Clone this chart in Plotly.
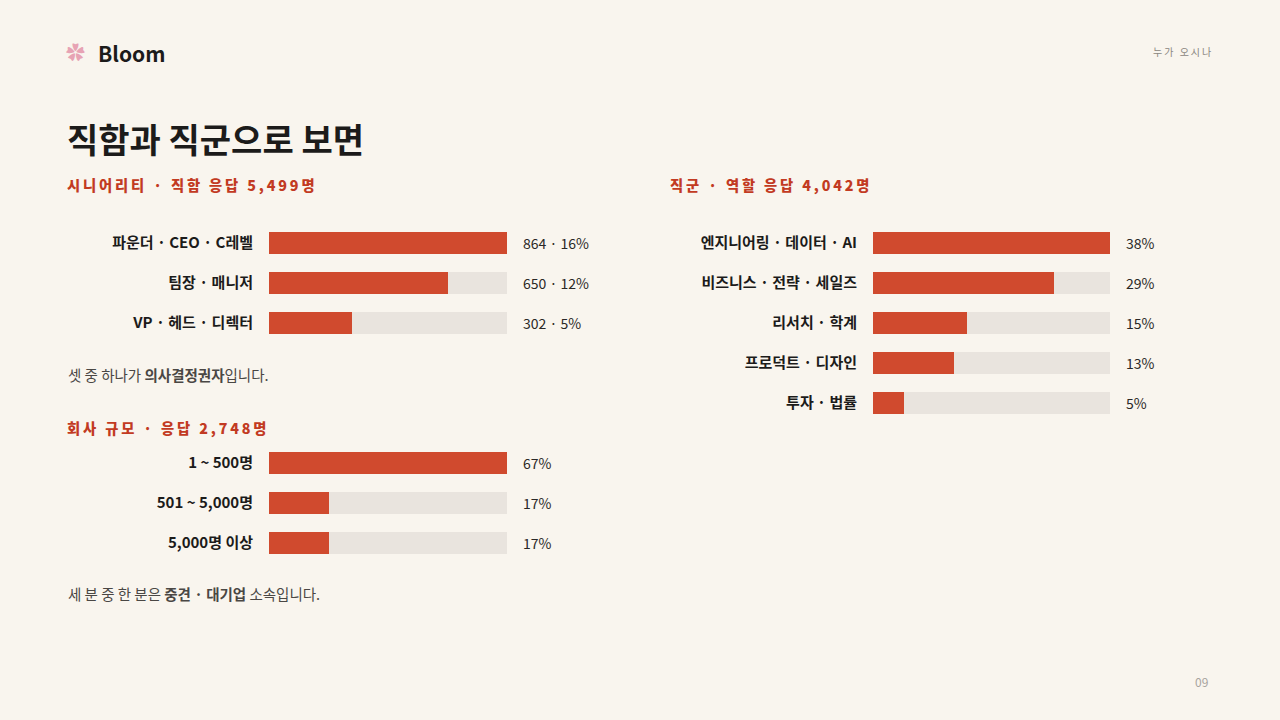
import plotly.graph_objects as go

# seniority / title
title_labels = ['파운더 · CEO · C레벨', '팀장 · 매니저', 'VP · 헤드 · 디렉터']
title_counts = [864, 650, 302]
title_pcts = [16, 12, 5]

# company size
size_labels = ['1 ~ 500명', '501 ~ 5,000명', '5,000명 이상']
size_pcts = [67, 17, 17]

# job family / role
role_labels = ['엔지니어링 · 데이터 · AI', '비즈니스 · 전략 · 세일즈', '리서치 · 학계', '프로덕트 · 디자인', '투자 · 법률']
role_pcts = [38, 29, 15, 13, 5]

W, H = 1280, 720
BG = '#F9F5EE'
RED = '#D04A2E'
RED_TEXT = '#C23A22'
TRACK = '#E9E4DE'
INK = '#1C1B1A'
FONT = 'Noto Sans CJK KR'


def px(x):
    return x / W


def py(y):
    return 1 - y / H


def spaced(s):
    return '\u2009'.join(s)


fig = go.Figure()


def add_panel(idx, labels, values, texts, x0, x1, top, bottom):
    xa = 'x' if idx == 1 else f'x{idx}'
    ya = 'y' if idx == 1 else f'y{idx}'
    vmax = max(values)
    fig.add_trace(go.Bar(
        y=labels, x=[vmax] * len(labels), orientation='h',
        marker=dict(color=TRACK, line=dict(width=0)), width=0.55,
        xaxis=xa, yaxis=ya, hoverinfo='skip', showlegend=False))
    fig.add_trace(go.Bar(
        y=labels, x=values, orientation='h',
        marker=dict(color=RED, line=dict(width=0)), width=0.55,
        xaxis=xa, yaxis=ya, showlegend=False))
    for lab, t in zip(labels, texts):
        fig.add_annotation(x=vmax, y=lab, xref=xa, yref=ya, text=t,
                           showarrow=False, xanchor='left', xshift=14,
                           font=dict(size=14, color='#2A2826', family=FONT))
    key = '' if idx == 1 else str(idx)
    fig.update_layout(**{
        f'xaxis{key}': dict(domain=[px(x0), px(x1)], range=[0, vmax],
                            visible=False, fixedrange=True, anchor=ya),
        f'yaxis{key}': dict(domain=[py(bottom), py(top)], autorange='reversed',
                            anchor=xa, showgrid=False, showline=False, zeroline=False,
                            ticks='', ticklabelstandoff=15,
                            tickmode='array', tickvals=labels,
                            ticktext=[f'<b>{l}</b>' for l in labels],
                            tickfont=dict(size=15, color=INK, family=FONT)),
    })


add_panel(1, title_labels, title_counts,
          [f'{c} · {p}%' for c, p in zip(title_counts, title_pcts)],
          269, 507, 223, 343)
add_panel(2, size_labels, size_pcts, [f'{p}%' for p in size_pcts],
          269, 507, 443, 563)
add_panel(3, role_labels, role_pcts, [f'{p}%' for p in role_pcts],
          873, 1110, 223, 423)


def text(x, y, s, size, color, anchor='left', weight='normal'):
    fig.add_annotation(x=px(x), y=py(y), xref='paper', yref='paper',
                       text=s, showarrow=False,
                       xanchor=anchor, yanchor='middle',
                       font=dict(size=size, color=color, family=FONT, weight=weight))


# header
text(64, 52, '✿', 19, '#E7A3B4')
text(96, 53, 'Bloom', 21, INK, weight=700)
text(1213, 52, spaced('누가 오시나'), 10, '#8A8680', anchor='right')
text(1210, 681, '09', 12, '#A8A49E', anchor='right')

# titles
text(65, 138, '직함과 직군으로 보면', 34, INK, weight=700)
text(65, 184, spaced('시니어리티 · 직함 응답 5,499명'), 14.3, RED_TEXT, weight=900)
text(65, 427, spaced('회사 규모 · 응답 2,748명'), 14.3, RED_TEXT, weight=900)
text(668, 184, spaced('직군 · 역할 응답 4,042명'), 14.3, RED_TEXT, weight=900)

# notes
text(66, 374, '셋 중 하나가 <b>의사결정권자</b>입니다.', 14.5, '#4A4744')
text(66, 593, '세 분 중 한 분은 <b>중견 · 대기업</b> 소속입니다.', 14.5, '#4A4744')

fig.update_layout(
    width=W, height=H,
    margin=dict(l=0, r=0, t=0, b=0),
    paper_bgcolor=BG, plot_bgcolor=BG,
    barmode='overlay', bargap=0,
    font=dict(family=FONT),
    showlegend=False,
)

fig.write_html('out.html', config={'displayModeBar': False},
               post_script="document.body.style.margin='0';")
